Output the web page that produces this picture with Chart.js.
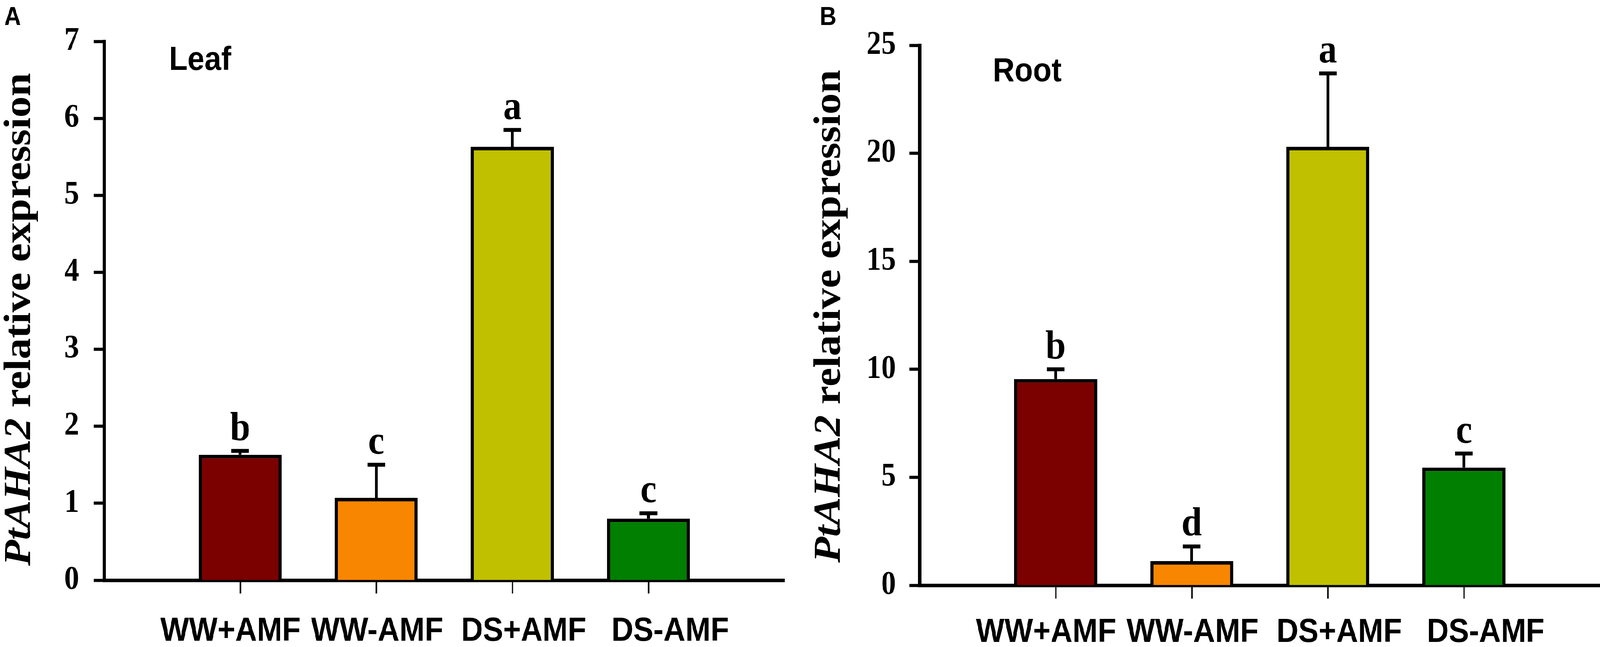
<!DOCTYPE html>
<html>
<head>
<meta charset="utf-8">
<script src="https://cdn.jsdelivr.net/npm/chart.js@4.4.0/dist/chart.umd.min.js"></script>
<style>
  html, body { margin: 0; padding: 0; background: #fff; overflow: hidden; }
  #wrap { position: relative; width: 4550px; height: 1657px; transform-origin: 0 0; }
  canvas { position: absolute; top: 0; }
</style>
</head>
<body>
<div id="wrap">
  <canvas id="painelA" width="2275" height="1657" style="left:0"></canvas>
  <canvas id="painelB" width="2275" height="1657" style="left:2275px"></canvas>
</div>
<script>
// categorias e valores
const categorias = ['WW+AMF', 'WW-AMF', 'DS+AMF', 'DS-AMF'];
const coresBarras = ['#7b0000', '#f98600', '#c0c000', '#007f00'];

const mediasFolha = [1.63, 1.07, 5.63, 0.80];
const errosFolha = [0.05, 0.43, 0.22, 0.07];
const letrasFolha = ['b', 'c', 'a', 'c'];

const mediasRaiz = [9.55, 1.12, 20.3, 5.45];
const errosRaiz = [0.45, 0.68, 3.4, 0.65];
const letrasRaiz = ['b', 'd', 'a', 'c'];

const ticksFolha = { max: 7, passo: 1 };
const ticksRaiz = { max: 25, passo: 5 };

const serif = '"Liberation Serif", "Times New Roman", serif';
const sans = '"Liberation Sans", Arial, sans-serif';

// ajusta a pagina ao tamanho real da janela (largura e altura separadas)
const escalaX = window.innerWidth / 4550;
const escalaY = window.innerHeight / 1657;
document.getElementById('wrap').style.transform = 'scale(' + escalaX + ',' + escalaY + ')';

function criarPainel(idCanvas, p) {

  // plugin que desenha barras de erro, letras, rotulos e titulo do eixo y
  const extras = {
    id: 'extras_' + idCanvas,
    afterDatasetsDraw(chart) {
      const ctx = chart.ctx;
      const x = chart.scales.x;
      const y = chart.scales.y;
      ctx.save();
      ctx.strokeStyle = '#000';
      ctx.fillStyle = '#000';
      for (let i = 0; i < p.medias.length; i++) {
        const px = x.getPixelForValue(i + 1);
        const yTopo = y.getPixelForValue(p.medias[i]);
        const yErro = y.getPixelForValue(p.medias[i] + p.erros[i]);
        ctx.lineWidth = 8;
        ctx.beginPath();
        ctx.moveTo(px, yTopo);
        ctx.lineTo(px, yErro);
        ctx.stroke();
        ctx.lineWidth = 10;
        ctx.beginPath();
        ctx.moveTo(px - 25, yErro);
        ctx.lineTo(px + 25, yErro);
        ctx.stroke();
        ctx.font = 'bold 104px ' + serif;
        ctx.textAlign = 'center';
        ctx.textBaseline = 'alphabetic';
        ctx.fillText(p.letras[i], px, yErro - 28);
      }
      ctx.restore();
    },
    afterDraw(chart) {
      const ctx = chart.ctx;
      ctx.save();
      ctx.fillStyle = '#000';
      ctx.textAlign = 'left';
      ctx.textBaseline = 'alphabetic';
      ctx.font = 'bold 66px ' + sans;
      ctx.fillText(p.letraPainel, p.letraX, 64);
      ctx.font = 'bold 86px ' + sans;
      ctx.fillText(p.orgao, p.orgaoX, p.orgaoY);

      // titulo do eixo y: parte em italico + parte normal
      const parte1 = 'PtAHA2';
      const parte2 = ' relative expression';
      const f1 = 'italic bold 108px ' + serif;
      const f2 = 'bold 108px ' + serif;
      ctx.font = f1;
      const w1 = ctx.measureText(parte1).width;
      ctx.font = f2;
      const w2 = ctx.measureText(parte2).width;
      ctx.translate(p.tituloX, p.tituloY);
      ctx.rotate(-Math.PI / 2);
      const inicio = -(w1 + w2) / 2;
      ctx.font = f1;
      ctx.fillText(parte1, inicio, 0);
      ctx.font = f2;
      ctx.fillText(parte2, inicio + w1, 0);
      ctx.restore();
    }
  };

  const dados = {
    datasets: [{
      data: p.medias.map((v, i) => ({ x: i + 1, y: v })),
      backgroundColor: coresBarras,
      borderColor: '#000',
      borderWidth: 9,
      barPercentage: 0.61,
      categoryPercentage: 1
    }]
  };

  const config = {
    type: 'bar',
    data: dados,
    plugins: [extras],
    options: {
      responsive: false,
      animation: false,
      devicePixelRatio: 1,
      layout: { padding: { top: p.topo, right: p.direita, left: 0, bottom: 0 } },
      plugins: { legend: { display: false }, tooltip: { enabled: false } },
      scales: {
        // eixo das barras: so as marcas de tick
        x: {
          type: 'linear',
          min: 0,
          max: 5,
          offset: false,
          weight: 0,
          afterBuildTicks: (s) => { s.ticks = categorias.map((c, i) => ({ value: i + 1 })); },
          afterFit: (s) => { s.height = 34; },
          grid: { offset: false, drawOnChartArea: false, tickLength: 34, tickWidth: 4, tickColor: '#000' },
          border: { display: true, color: '#000', width: 9 },
          ticks: { display: false }
        },
        // eixo so para os nomes das categorias (um pouco mais espalhados, como no original)
        xRotulos: {
          type: 'linear',
          axis: 'x',
          position: 'bottom',
          min: 0.137,
          max: 4.78,
          offset: false,
          weight: 1,
          afterBuildTicks: (s) => { s.ticks = categorias.map((c, i) => ({ value: i + 1 })); },
          afterFit: (s) => { s.height = p.alturaX - 34; },
          grid: { display: false, drawTicks: false },
          border: { display: false },
          ticks: {
            autoSkip: false,
            maxRotation: 0,
            padding: p.padX,
            color: '#000',
            font: { family: sans, weight: 'bold', size: 86, lineHeight: 1.2 },
            callback: (v) => categorias[v - 1]
          }
        },
        y: {
          min: 0,
          max: p.ticks.max,
          afterFit: (s) => { s.width = p.larguraY; },
          grid: { drawOnChartArea: false, tickLength: 29, tickWidth: 8, tickColor: '#000' },
          border: { display: true, color: '#000', width: 9 },
          ticks: {
            stepSize: p.ticks.passo,
            padding: p.padY,
            color: '#000',
            font: { family: serif, weight: 'bold', size: 84 }
          }
        }
      }
    }
  };

  return new Chart(document.getElementById(idCanvas), config);
}

criarPainel('painelA', {
  medias: mediasFolha, erros: errosFolha, letras: letrasFolha, ticks: ticksFolha,
  letraPainel: 'A', letraX: 12, orgao: 'Leaf', orgaoX: 481, orgaoY: 179,
  tituloX: 85, tituloY: 818,
  topo: 106, direita: 44, alturaX: 171, larguraY: 296, padX: 46, padY: 42
});

criarPainel('painelB', {
  medias: mediasRaiz, erros: errosRaiz, letras: letrasRaiz, ticks: ticksRaiz,
  letraPainel: 'B', letraX: 56, orgao: 'Root', orgaoX: 548, orgaoY: 208,
  tituloX: 113, tituloY: 810,
  topo: 116, direita: 0, alturaX: 158, larguraY: 340, padX: 36, padY: 38
});
</script>
</body>
</html>
